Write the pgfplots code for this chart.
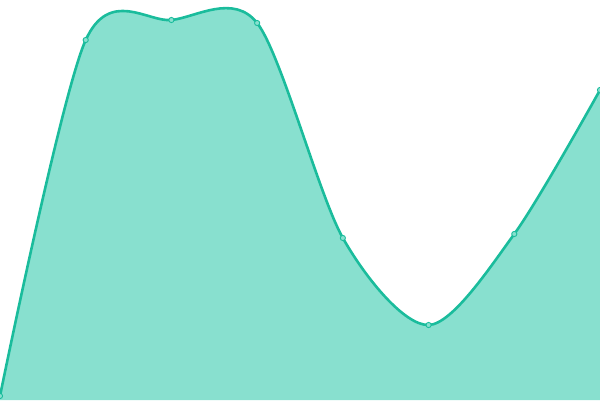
\documentclass[border=0pt]{standalone}
\usepackage{pgfplots}
\pgfplotsset{compat=1.18}
\definecolor{linec}{HTML}{1ABC9C}
\definecolor{areac}{HTML}{88E0CF}
\begin{document}
\begin{tikzpicture}
  \begin{axis}[
      scale only axis,
      width=600pt, height=400pt,
      xmin=0, xmax=7, ymin=0, ymax=400,
      hide axis,
      clip=true
    ]
    \addplot[fill=areac, draw=none, smooth, tension=0.5]
    coordinates {
        (0,4) (1,360) (2,380) (3,377) (4,162) (5,75) (6,166) (7,310)
      } \closedcycle;
    \addplot[color=linec, line width=2.6pt, smooth, tension=0.5,
      mark=*, mark size=2.6pt,
      mark options={fill=areac, draw=linec, line width=0.9pt}]
    coordinates {
        (0,4) (1,360) (2,380) (3,377) (4,162) (5,75) (6,166) (7,310)
      };
  \end{axis}
  \pgfresetboundingbox
  \useasboundingbox (current axis.south west) rectangle (current axis.north east);
\end{tikzpicture}
\end{document}
